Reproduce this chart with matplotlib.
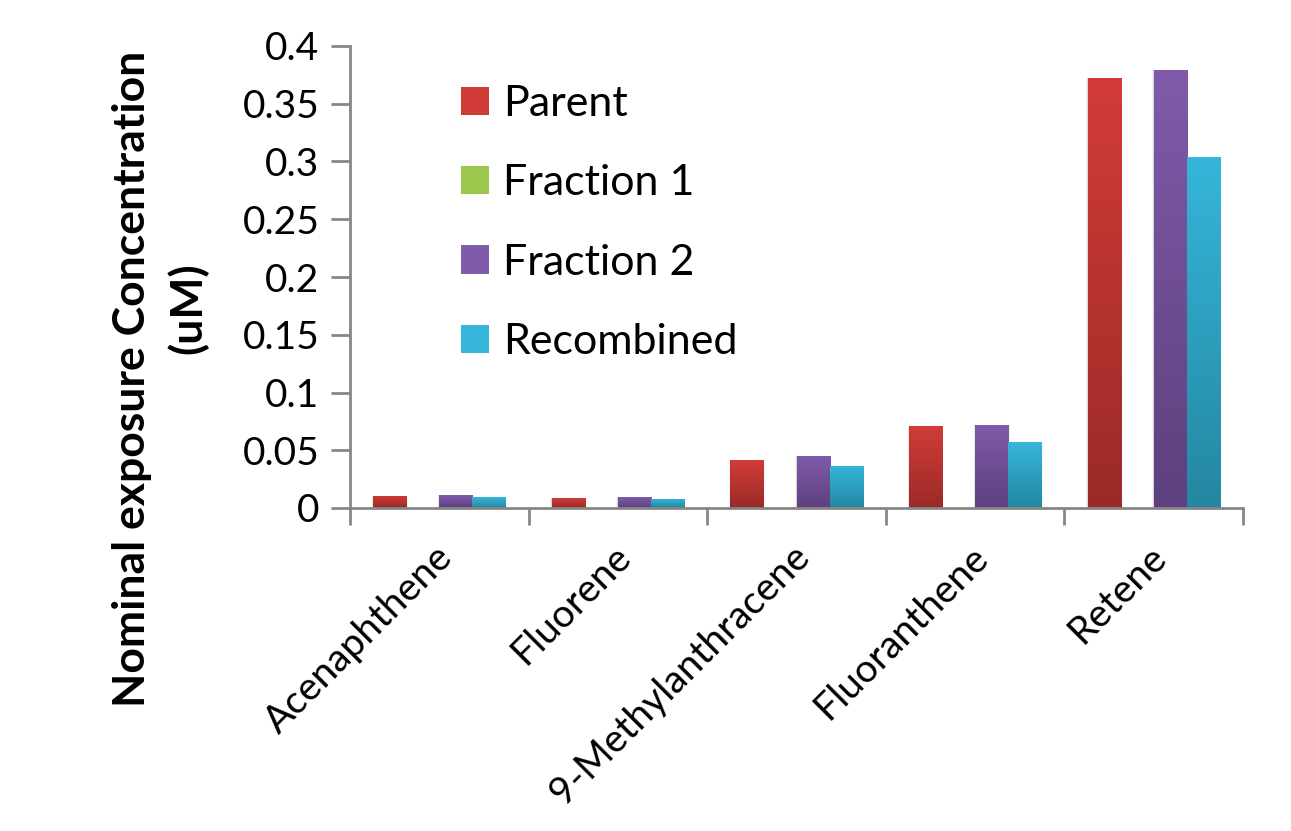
import numpy as np
import matplotlib
matplotlib.use("Agg")
import matplotlib.pyplot as plt
from matplotlib.colors import LinearSegmentedColormap
from matplotlib.patches import Patch

plt.rcParams['font.family'] = ['Lato', 'DejaVu Sans']

compounds = ["Acenaphthene", "Fluorene", "9-Methylanthracene", "Fluoranthene", "Retene"]
series = ["Parent", "Fraction 1", "Fraction 2", "Recombined"]
parent = [0.0104, 0.0087, 0.0416, 0.0710, 0.372]
fraction1 = [0.0, 0.0, 0.0, 0.0, 0.0]
fraction2 = [0.0110, 0.0095, 0.0450, 0.0719, 0.379]
recombined = [0.0095, 0.0078, 0.0364, 0.0570, 0.304]

# top / bottom colours of each bar gradient
grad = [("#D23C38", "#9A2A27"),
        ("#9DC64C", "#73903A"),
        ("#7F5BAA", "#5D407D"),
        ("#36B6DA", "#2487A1")]

W, H = 1291, 831
fig = plt.figure(figsize=(W / 100, H / 100), dpi=100)
ax = fig.add_axes([350 / W, 1 - 508 / H, 893 / W, 462 / H])

values = [parent, fraction1, fraction2, recombined]
n = len(compounds)
x = np.arange(n)
bw = 0.185
offsets = (np.arange(4) - 1.5) * bw

gimg = np.linspace(1, 0, 256).reshape(-1, 1)
for k, vals in enumerate(values):
    cmap = LinearSegmentedColormap.from_list("g%d" % k, [grad[k][1], grad[k][0]])
    bars = ax.bar(x + offsets[k], vals, bw, color="none", edgecolor="none", zorder=3)
    for b, v in zip(bars, vals):
        if v <= 0:
            continue
        x0 = b.get_x()
        # soft shadow at the sides of the bar
        for s, a in [(0.008, 0.04), (0.005, 0.05), (0.0025, 0.07)]:
            ax.add_patch(plt.Rectangle((x0 - s, 0), bw + 2 * s, v,
                                       color="black", alpha=a, lw=0, zorder=2))
        im = ax.imshow(gimg, cmap=cmap, aspect="auto",
                       extent=[x0, x0 + bw, 0, v], zorder=3)
        im.set_clip_path(b)

ax.set_xlim(-0.5, n - 0.5)
ax.set_ylim(0, 0.4)
ax.set_yticks(np.arange(0, 0.401, 0.05))
ax.set_yticklabels(["0", "0.05", "0.1", "0.15", "0.2", "0.25", "0.3", "0.35", "0.4"])

ax.set_xticks(np.arange(-0.5, n, 1.0))
ax.set_xticklabels([])
ax.tick_params(axis="x", length=12, width=2, color="#868686")
ax.tick_params(axis="y", length=14, width=2, color="#868686", labelsize=28, pad=8)

# rotated category labels, right end just below each group centre
for xi, name in zip(x, compounds):
    ax.annotate(name, xy=(xi, 0), xycoords=("data", "axes fraction"),
                xytext=(-4, -22), textcoords="offset points",
                rotation=45, ha="right", va="top", rotation_mode="anchor",
                fontsize=28)

for side in ["top", "right"]:
    ax.spines[side].set_visible(False)
for side in ["left", "bottom"]:
    ax.spines[side].set_color("#868686")
    ax.spines[side].set_linewidth(2)
    ax.spines[side].set_zorder(4)

fig.text(132 / W, 1 - 379 / H, "Nominal exposure Concentration", rotation=90,
         ha="center", va="center", fontsize=32, fontweight="bold")
fig.text(188 / W, 1 - 308 / H, "(uM)", rotation=90,
         ha="center", va="center", fontsize=32, fontweight="bold")

handles = [Patch(facecolor=grad[k][0], edgecolor="none") for k in range(4)]
fig.legend(handles, series, loc="upper left",
           bbox_to_anchor=(461 / W, 1 - 85 / H), bbox_transform=fig.transFigure,
           frameon=False, fontsize=31, handlelength=0.64, handleheight=0.64,
           handletextpad=0.34, labelspacing=0.96, borderpad=0, borderaxespad=0)

fig.savefig("out.png", dpi=100)
